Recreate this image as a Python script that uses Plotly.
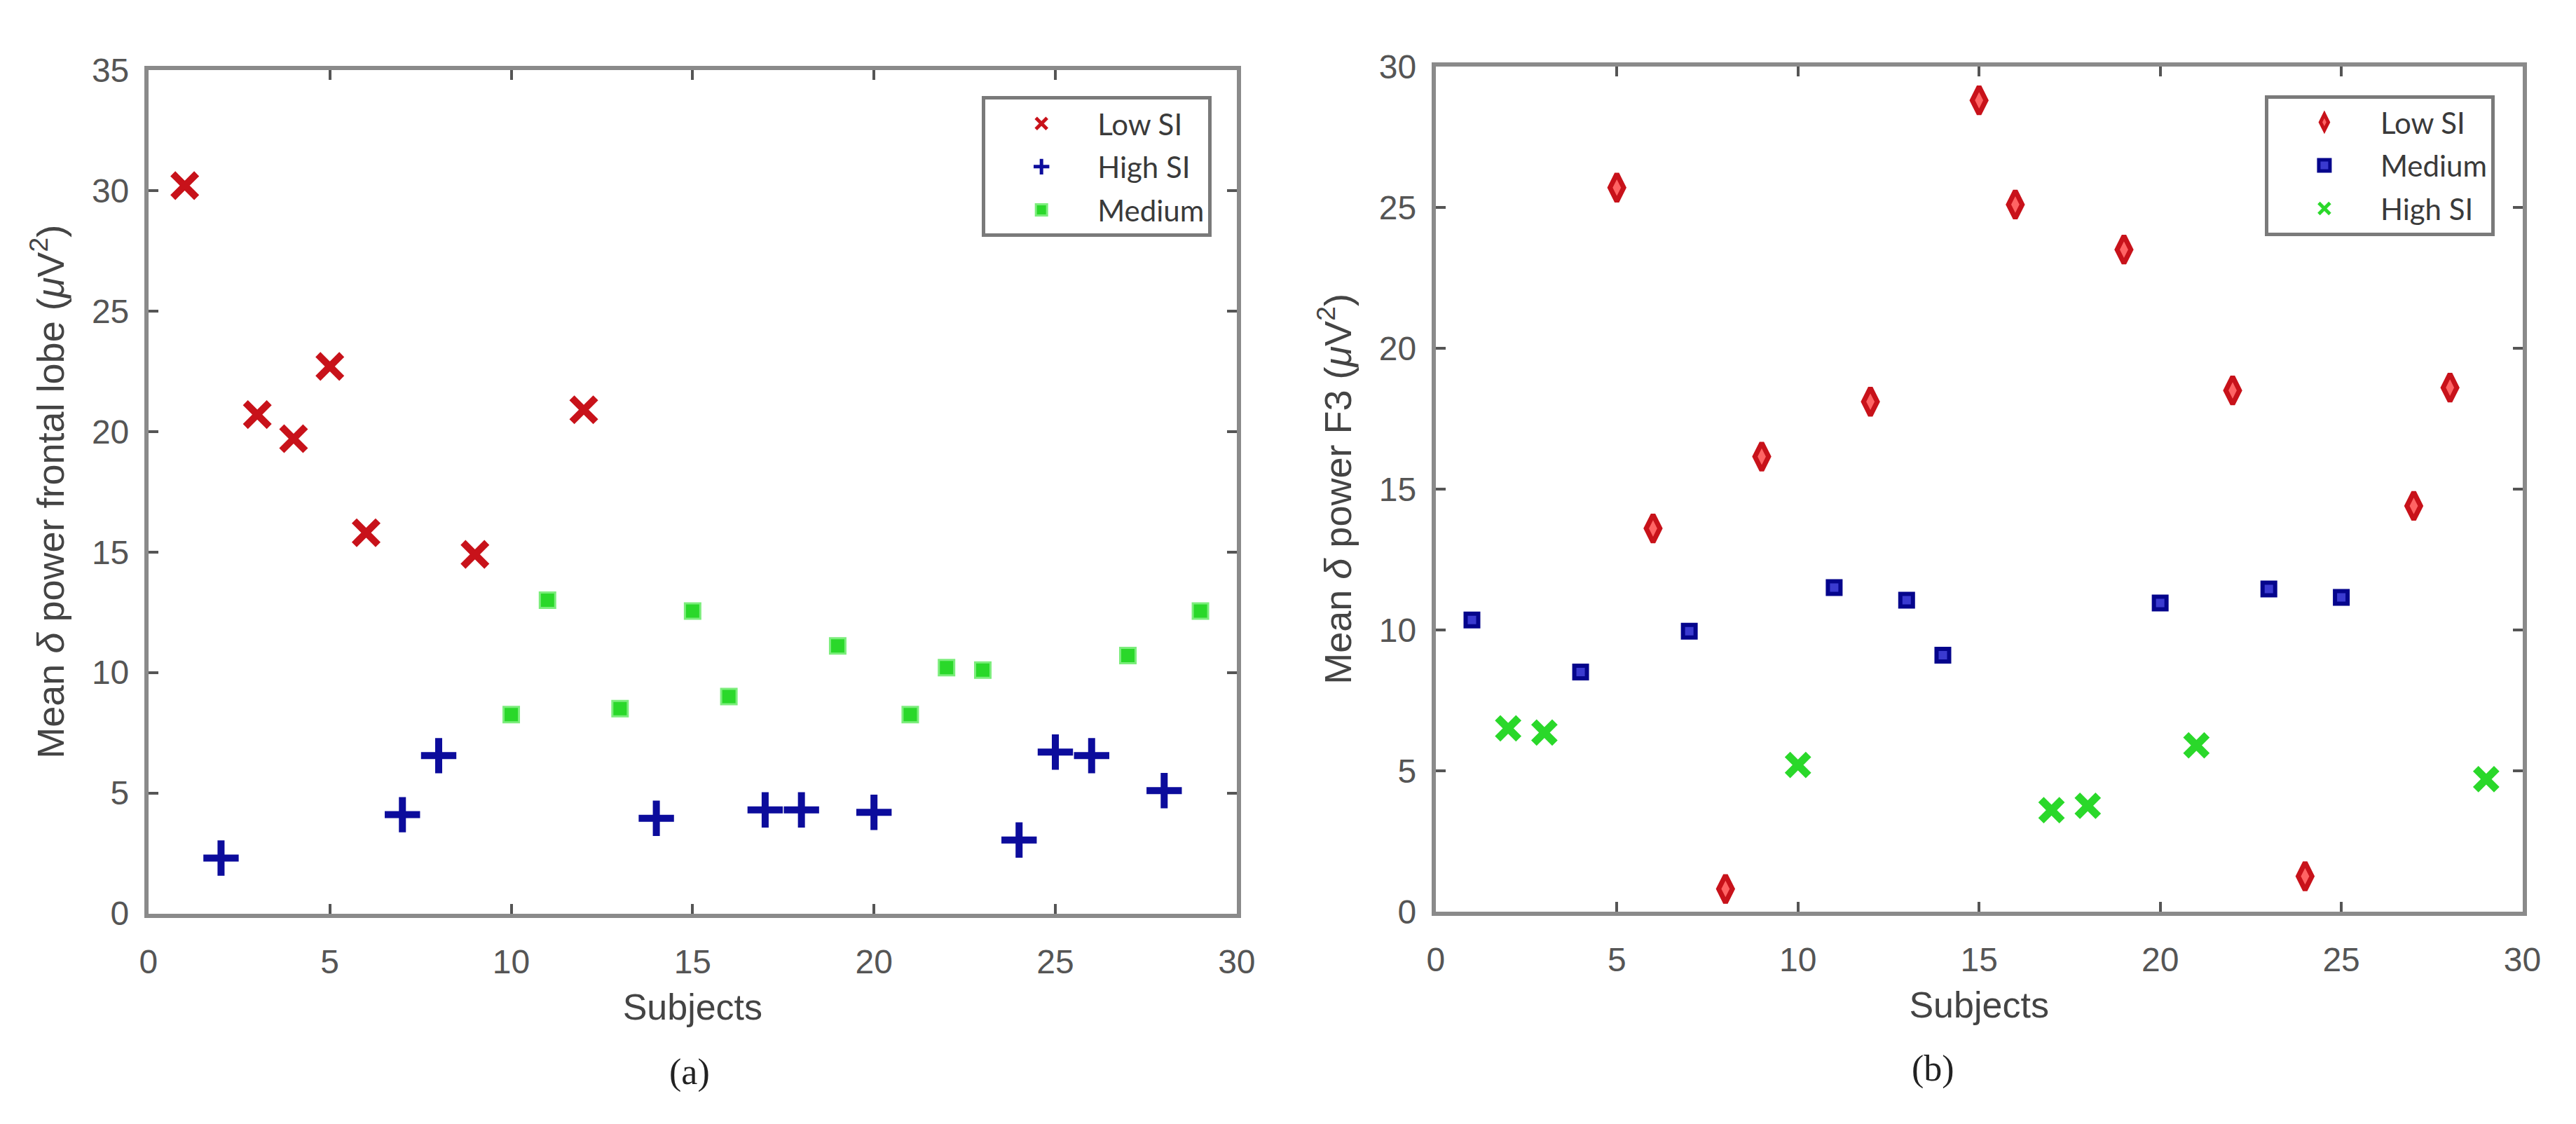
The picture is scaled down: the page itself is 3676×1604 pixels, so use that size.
import plotly.graph_objects as go
from plotly.subplots import make_subplots

# panel (a): mean delta power, frontal lobe
low_a_x = [1, 3, 4, 5, 6, 9, 12]
low_a_y = [30.2, 20.7, 19.7, 22.7, 15.8, 14.9, 20.9]
high_a_x = [2, 7, 8, 14, 17, 18, 20, 24, 25, 26, 28]
high_a_y = [2.3, 4.1, 6.55, 3.95, 4.3, 4.3, 4.2, 3.05, 6.7, 6.55, 5.1]
med_a_x = [10, 11, 13, 15, 16, 19, 21, 22, 23, 27, 29]
med_a_y = [8.25, 13.0, 8.5, 12.55, 9.0, 11.1, 8.25, 10.2, 10.1, 10.7, 12.55]

# panel (b): mean delta power, F3
low_b_x = [5, 6, 8, 9, 12, 15, 16, 19, 22, 24, 27, 28]
low_b_y = [25.7, 13.6, 0.8, 16.15, 18.1, 28.8, 25.1, 23.5, 18.5, 1.25, 14.4, 18.6]
med_b_x = [1, 4, 7, 11, 13, 14, 20, 23, 25]
med_b_y = [10.35, 8.5, 9.95, 11.5, 11.05, 9.1, 10.95, 11.45, 11.15]
high_b_x = [2, 3, 10, 17, 18, 21, 29]
high_b_y = [6.5, 6.35, 5.2, 3.6, 3.75, 5.9, 4.7]

x_ticks = [0, 5, 10, 15, 20, 25, 30]
y_ticks_a = [0, 5, 10, 15, 20, 25, 30, 35]
y_ticks_b = [0, 5, 10, 15, 20, 25, 30]

RED = '#c8121a'
BLUE = '#0c0c9c'
GREEN = '#2ad82a'
AXIS = '#8a8a8a'
SANS = 'Liberation Sans, Arial, sans-serif'
SERIF = 'Liberation Serif, Times New Roman, serif'

fig = make_subplots(rows=1, cols=2)

# panel (a)
fig.add_trace(go.Scatter(
    x=low_a_x, y=low_a_y, mode='markers', name='Low SI', legend='legend',
    legendgroup='a1',
    marker=dict(symbol='x-thin', size=34, color=RED, line=dict(color=RED, width=10))
), row=1, col=1)
fig.add_trace(go.Scatter(
    x=high_a_x, y=high_a_y, mode='markers', name='High SI', legend='legend',
    legendgroup='a2',
    marker=dict(symbol='cross-thin', size=36, color=BLUE, line=dict(color=BLUE, width=10))
), row=1, col=1)
fig.add_trace(go.Scatter(
    x=med_a_x, y=med_a_y, mode='markers', name='Medium', legend='legend',
    legendgroup='a3',
    marker=dict(symbol='square', size=22, color=GREEN, line=dict(color='#7ced7c', width=3))
), row=1, col=1)

# panel (b)
fig.add_trace(go.Scatter(
    x=low_b_x, y=low_b_y, mode='markers', name='Low SI', legend='legend2',
    legendgroup='b1',
    marker=dict(symbol='diamond-tall', size=28, color='#ff6464', line=dict(color=RED, width=7))
), row=1, col=2)
fig.add_trace(go.Scatter(
    x=med_b_x, y=med_b_y, mode='markers', name='Medium', legend='legend2',
    legendgroup='b2',
    marker=dict(symbol='square', size=18, color='#3a3ad0', line=dict(color='#05058c', width=6))
), row=1, col=2)
fig.add_trace(go.Scatter(
    x=high_b_x, y=high_b_y, mode='markers', name='High SI', legend='legend2',
    legendgroup='b3',
    marker=dict(symbol='x-thin', size=30, color=GREEN, line=dict(color=GREEN, width=11))
), row=1, col=2)

axis_common = dict(
    showline=True, linecolor=AXIS, linewidth=6, mirror='ticks',
    ticks='inside', ticklen=14, tickwidth=4, tickcolor='#555555',
    showgrid=False, zeroline=False,
    tickfont=dict(family=SANS, size=48, color='#555555'),
)

fig.update_xaxes(
    axis_common, range=[0, 30], tickvals=x_ticks,
    title=dict(text='Subjects', font=dict(family=SANS, size=52, color='#444444'), standoff=22),
    ticklabelstandoff=22,
)
fig.update_xaxes(domain=[0.0525, 0.4796], row=1, col=1)
fig.update_xaxes(domain=[0.5577, 0.9842], row=1, col=2)

fig.update_yaxes(
    axis_common, range=[0, 35], tickvals=y_ticks_a, domain=[0.1814, 0.9576],
    title=dict(text='Mean <i>δ</i> power frontal lobe (<i>μ</i>V<sup>2</sup>)',
               font=dict(family=SANS, size=54, color='#444444'), standoff=24),
    ticklabelstandoff=12,
    row=1, col=1
)
fig.update_yaxes(
    axis_common, range=[0, 30], tickvals=y_ticks_b, domain=[0.1833, 0.9607],
    title=dict(text='Mean <i>δ</i> power F3 (<i>μ</i>V<sup>2</sup>)',
               font=dict(family=SANS, size=54, color='#444444'), standoff=24),
    ticklabelstandoff=12,
    row=1, col=2
)

legend_common = dict(
    bgcolor='white', bordercolor='#7a7a7a', borderwidth=5,
    font=dict(family='Lato, Open Sans, sans-serif', size=42, color='#3a3a3a'),
    xanchor='right', yanchor='top', itemwidth=150, tracegroupgap=4,
)

fig.update_layout(
    width=3676, height=1604,
    margin=dict(l=0, r=0, t=0, b=0),
    plot_bgcolor='white', paper_bgcolor='white',
    showlegend=True,
    legend=dict(legend_common, x=0.4698, y=0.9333),
    legend2=dict(legend_common, x=0.9733, y=0.9345),
    annotations=[
        dict(text='(a)', x=0.2648, y=0.0355, xref='paper', yref='paper', showarrow=False,
             xanchor='center', yanchor='middle',
             font=dict(family=SERIF, size=52, color='#222222')),
        dict(text='(b)', x=0.753, y=0.0385, xref='paper', yref='paper', showarrow=False,
             xanchor='center', yanchor='middle',
             font=dict(family=SERIF, size=52, color='#222222')),
    ],
)

fig.write_html("out.html")
